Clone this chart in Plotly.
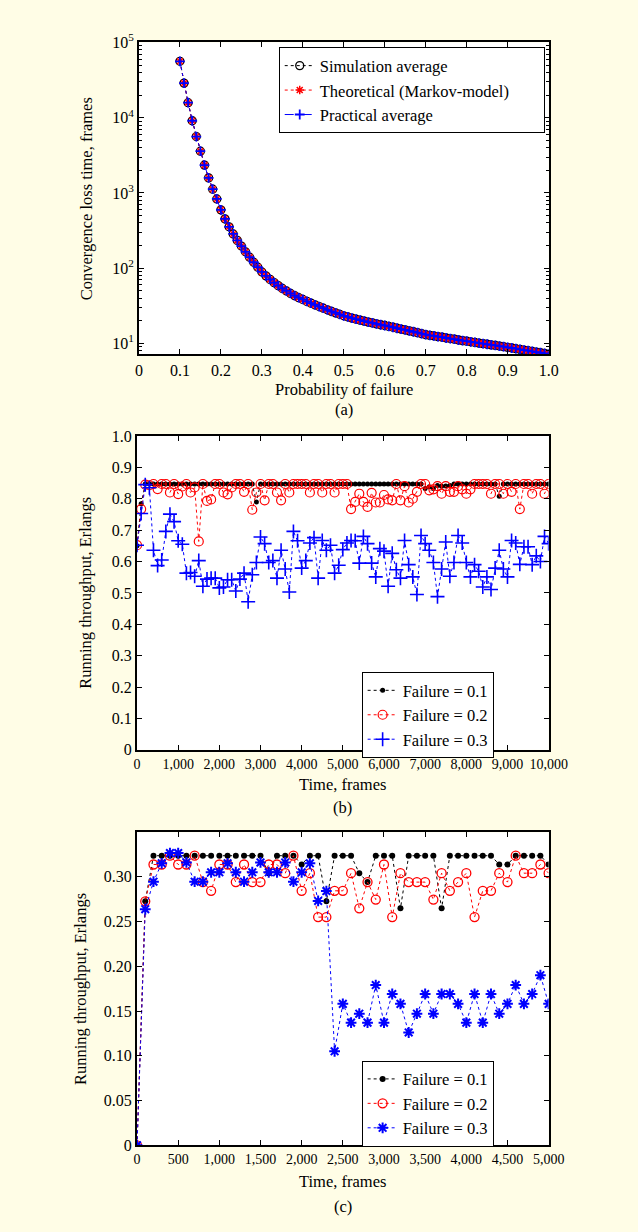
import plotly.graph_objects as go

# ---------------- data ----------------
prob_fail = [round(0.10 + 0.01 * i, 2) for i in range(91)]
sim_avg = [56234, 28840, 15849, 9120, 5623, 3589, 2344, 1585, 1122, 832,
           596, 452, 355, 285, 234, 197, 165, 140, 120, 103,
           89.1, 79.1, 71.0, 64.3, 58.6, 53.8, 49.8, 46.2, 43.2, 40.5,
           38.4, 36.2, 34.3, 32.5, 30.9, 29.4, 28.0, 26.7, 25.5, 24.4,
           23.3, 22.5, 21.7, 21.0, 20.4, 19.8, 19.2, 18.7, 18.2, 17.7,
           17.3, 16.8, 16.4, 15.9, 15.5, 15.1, 14.7, 14.3, 13.9, 13.5,
           13.1, 12.8, 12.6, 12.3, 12.1, 11.8, 11.6, 11.4, 11.1, 10.9,
           10.7, 10.5, 10.3, 10.1, 9.93, 9.75, 9.57, 9.40, 9.23, 9.04,
           8.87, 8.69, 8.51, 8.34, 8.17, 8.00, 7.83, 7.67, 7.52, 7.35, 7.19]
theory_markov = list(sim_avg)
practical_avg = list(sim_avg)

time_b = [100 * i for i in range(101)]
fail01_b = [0.650, 0.784, 0.847, 0.847, 0.847, 0.847, 0.847, 0.847, 0.847, 0.847,
            0.847, 0.847, 0.847, 0.847, 0.847, 0.847, 0.847, 0.847, 0.847, 0.847,
            0.847, 0.847, 0.847, 0.847, 0.847, 0.847, 0.847, 0.847, 0.847, 0.790,
            0.847, 0.847, 0.847, 0.847, 0.847, 0.847, 0.847, 0.847, 0.847, 0.847,
            0.847, 0.847, 0.847, 0.847, 0.847, 0.847, 0.847, 0.847, 0.847, 0.847,
            0.847, 0.847, 0.847, 0.847, 0.847, 0.847, 0.847, 0.847, 0.847, 0.847,
            0.847, 0.847, 0.847, 0.847, 0.847, 0.847, 0.847, 0.847, 0.847, 0.847,
            0.833, 0.838, 0.833, 0.842, 0.840, 0.841, 0.842, 0.847, 0.847, 0.847,
            0.847, 0.847, 0.847, 0.847, 0.847, 0.847, 0.847, 0.847, 0.808, 0.847,
            0.847, 0.847, 0.847, 0.847, 0.847, 0.847, 0.847, 0.847, 0.847, 0.847,
            0.847]
fail02_b = [0.652, 0.767, 0.845, 0.843, 0.847, 0.831, 0.847, 0.847, 0.820, 0.847,
            0.815, 0.839, 0.847, 0.820, 0.836, 0.664, 0.847, 0.793, 0.798, 0.847,
            0.847, 0.820, 0.814, 0.836, 0.847, 0.847, 0.822, 0.847, 0.765, 0.820,
            0.847, 0.795, 0.847, 0.847, 0.820, 0.795, 0.847, 0.820, 0.847, 0.847,
            0.847, 0.847, 0.820, 0.847, 0.847, 0.820, 0.847, 0.847, 0.820, 0.847,
            0.847, 0.847, 0.767, 0.790, 0.816, 0.790, 0.774, 0.819, 0.788, 0.788,
            0.812, 0.798, 0.795, 0.847, 0.795, 0.840, 0.788, 0.800, 0.822, 0.847,
            0.847, 0.827, 0.830, 0.840, 0.816, 0.840, 0.822, 0.822, 0.840, 0.830,
            0.816, 0.830, 0.847, 0.847, 0.847, 0.847, 0.816, 0.847, 0.847, 0.816,
            0.847, 0.822, 0.847, 0.767, 0.847, 0.847, 0.816, 0.847, 0.847, 0.816,
            0.847]
fail03_b = [0.652, 0.753, 0.845, 0.835, 0.636, 0.587, 0.605, 0.696, 0.751, 0.727,
            0.666, 0.655, 0.563, 0.565, 0.553, 0.603, 0.521, 0.544, 0.547, 0.547,
            0.516, 0.519, 0.542, 0.542, 0.506, 0.544, 0.563, 0.472, 0.558, 0.597,
            0.678, 0.657, 0.597, 0.603, 0.547, 0.636, 0.576, 0.503, 0.696, 0.666,
            0.579, 0.603, 0.659, 0.676, 0.547, 0.667, 0.636, 0.652, 0.563, 0.588,
            0.638, 0.659, 0.667, 0.666, 0.595, 0.680, 0.657, 0.595, 0.551, 0.641,
            0.633, 0.521, 0.626, 0.574, 0.547, 0.667, 0.590, 0.551, 0.495, 0.683,
            0.657, 0.636, 0.597, 0.488, 0.576, 0.662, 0.553, 0.597, 0.683, 0.659,
            0.597, 0.551, 0.590, 0.569, 0.519, 0.551, 0.511, 0.579, 0.636, 0.576,
            0.551, 0.667, 0.659, 0.591, 0.647, 0.647, 0.590, 0.618, 0.600, 0.680,
            0.657]

time_c = [100 * i for i in range(51)]
fail01_c = [0.0, 0.2725, 0.3235, 0.3235, 0.3235, 0.3235, 0.3235, 0.3235, 0.3235, 0.3235,
            0.3235, 0.3235, 0.3235, 0.3235, 0.3235, 0.3235, 0.3040, 0.3235, 0.3235, 0.3235,
            0.3137, 0.3235, 0.3235, 0.2725, 0.3235, 0.3235, 0.3235, 0.3040, 0.2940, 0.3235,
            0.3235, 0.3235, 0.2647, 0.3235, 0.3235, 0.3235, 0.3235, 0.2647, 0.3235, 0.3235,
            0.3235, 0.3235, 0.3235, 0.3235, 0.3137, 0.3137, 0.3235, 0.3235, 0.3235, 0.3235,
            0.3137]
fail02_c = [0.0, 0.2725, 0.3137, 0.3137, 0.3235, 0.3137, 0.3137, 0.3235, 0.2940, 0.2843,
            0.3137, 0.3137, 0.2940, 0.3137, 0.2940, 0.2940, 0.3137, 0.3137, 0.3040, 0.3235,
            0.2843, 0.3040, 0.2549, 0.2549, 0.2843, 0.2843, 0.3040, 0.2647, 0.2940, 0.2745,
            0.3137, 0.2549, 0.3040, 0.2940, 0.2940, 0.2940, 0.2745, 0.3040, 0.2843, 0.2940,
            0.3040, 0.2549, 0.2843, 0.2843, 0.3040, 0.2940, 0.3235, 0.3040, 0.3040, 0.3137,
            0.3040]
fail03_c = [0.0, 0.2637, 0.2945, 0.3150, 0.3265, 0.3265, 0.3160, 0.2945, 0.2945, 0.3050,
            0.3050, 0.3150, 0.3050, 0.2945, 0.3050, 0.3160, 0.3050, 0.3050, 0.3160, 0.2945,
            0.3050, 0.3150, 0.2730, 0.2840, 0.1050, 0.1580, 0.1370, 0.1470, 0.1370, 0.1790,
            0.1370, 0.1690, 0.1580, 0.1260, 0.1470, 0.1690, 0.1470, 0.1690, 0.1690, 0.1580,
            0.1370, 0.1690, 0.1370, 0.1690, 0.1470, 0.1580, 0.1790, 0.1580, 0.1690, 0.1900,
            0.1580]

ticks_a_x = [0, 0.1, 0.2, 0.3, 0.4, 0.5, 0.6, 0.7, 0.8, 0.9, 1.0]
ticktext_a_x = ["0", "0.1", "0.2", "0.3", "0.4", "0.5", "0.6", "0.7", "0.8", "0.9", "1.0"]
ticks_a_y = [10, 100, 1000, 10000, 100000]
ticktext_a_y = ["10<sup>1</sup>", "10<sup>2</sup>", "10<sup>3</sup>", "10<sup>4</sup>", "10<sup>5</sup>"]
ticks_b_x = [0, 1000, 2000, 3000, 4000, 5000, 6000, 7000, 8000, 9000, 10000]
ticktext_b_x = ["0", "1,000", "2,000", "3,000", "4,000", "5,000", "6,000", "7,000", "8,000", "9,000", "10,000"]
ticks_b_y = [0, 0.1, 0.2, 0.3, 0.4, 0.5, 0.6, 0.7, 0.8, 0.9, 1.0]
ticktext_b_y = ["0", "0.1", "0.2", "0.3", "0.4", "0.5", "0.6", "0.7", "0.8", "0.9", "1.0"]
ticks_c_x = [0, 500, 1000, 1500, 2000, 2500, 3000, 3500, 4000, 4500, 5000]
ticktext_c_x = ["0", "500", "1,000", "1,500", "2,000", "2,500", "3,000", "3,500", "4,000", "4,500", "5,000"]
ticks_c_y = [0, 0.05, 0.10, 0.15, 0.20, 0.25, 0.30]
ticktext_c_y = ["0", "0.05", "0.10", "0.15", "0.20", "0.25", "0.30"]

W, H = 638, 1232
FONT = "Liberation Serif"
BG = "#FFFDE6"
PAD = "\u00a0" * 7


def px_x(x):
    return x / W


def px_y(y):
    return 1 - y / H


fig = go.Figure()

fig.add_trace(go.Scatter(x=prob_fail, y=sim_avg, name="Simulation average", mode="lines+markers",
                         line=dict(color="black", width=1, dash="dot"),
                         marker=dict(symbol="circle-open", size=8, color="black", line=dict(width=1.3)),
                         xaxis="x", yaxis="y", legend="legend"))
fig.add_trace(go.Scatter(x=prob_fail, y=theory_markov, name="Theoretical (Markov-model)" + PAD, mode="lines+markers",
                         line=dict(color="red", width=1, dash="dot"),
                         marker=dict(symbol="asterisk-open", size=7, color="red", line=dict(width=1.5, color="red")),
                         xaxis="x", yaxis="y", legend="legend"))
fig.add_trace(go.Scatter(x=prob_fail, y=practical_avg, name="Practical average", mode="lines+markers",
                         line=dict(color="blue", width=1, dash="dashdot"),
                         marker=dict(symbol="cross-thin-open", size=7, color="blue", line=dict(width=1.8, color="blue")),
                         xaxis="x", yaxis="y", legend="legend"))

fig.add_trace(go.Scatter(x=time_b, y=fail01_b, name="Failure = 0.1", mode="lines+markers",
                         line=dict(color="black", width=1, dash="dot"),
                         marker=dict(symbol="circle", size=5, color="black"),
                         xaxis="x2", yaxis="y2", legend="legend2"))
fig.add_trace(go.Scatter(x=time_b, y=fail02_b, name="Failure = 0.2", mode="lines+markers",
                         line=dict(color="red", width=1, dash="dot"),
                         marker=dict(symbol="circle-open", size=9, color="red", line=dict(width=1.2, color="red")),
                         xaxis="x2", yaxis="y2", legend="legend2"))
fig.add_trace(go.Scatter(x=time_b, y=fail03_b, name="Failure = 0.3", mode="lines+markers",
                         line=dict(color="blue", width=1, dash="dot"),
                         marker=dict(symbol="cross-thin-open", size=10, color="blue", line=dict(width=1.6, color="blue")),
                         xaxis="x2", yaxis="y2", legend="legend2"))

fig.add_trace(go.Scatter(x=time_c, y=fail01_c, name="Failure = 0.1", mode="lines+markers",
                         line=dict(color="black", width=1, dash="dot"),
                         marker=dict(symbol="circle", size=6, color="black"),
                         xaxis="x3", yaxis="y3", legend="legend3"))
fig.add_trace(go.Scatter(x=time_c, y=fail02_c, name="Failure = 0.2", mode="lines+markers",
                         line=dict(color="red", width=1, dash="dot"),
                         marker=dict(symbol="circle-open", size=9, color="red", line=dict(width=1.3, color="red")),
                         xaxis="x3", yaxis="y3", legend="legend3"))
fig.add_trace(go.Scatter(x=time_c, y=fail03_c, name="Failure = 0.3", mode="lines+markers",
                         line=dict(color="blue", width=1, dash="dot"),
                         marker=dict(symbol="asterisk-open", size=9, color="blue", line=dict(width=2, color="blue")),
                         xaxis="x3", yaxis="y3", legend="legend3"))

axis_common = dict(showline=True, linecolor="black", linewidth=2, mirror="ticks",
                   ticks="inside", ticklen=5, tickwidth=1, tickcolor="black",
                   showgrid=False, zeroline=False, color="black")

minor_log = [m * 10 ** d for d in range(0, 5) for m in range(2, 10) if m * 10 ** d > 7]

legend_common = dict(xanchor="left", yanchor="top", bgcolor="white", bordercolor="black",
                     borderwidth=1, font=dict(size=16.5, family=FONT, color="black"),
                     tracegroupgap=0)

fig.update_layout(
    width=W, height=H, autosize=False,
    margin=dict(l=0, r=0, t=0, b=0, pad=0),
    paper_bgcolor=BG, plot_bgcolor="white",
    font=dict(family=FONT, color="black", size=15),
    xaxis=dict(domain=[px_x(140), px_x(565)], range=[0, 1.0], tickmode="array",
               tickvals=ticks_a_x, ticktext=ticktext_a_x, tickfont=dict(size=16, family=FONT),
               anchor="y", **axis_common),
    yaxis=dict(domain=[px_y(349), px_y(32)], type="log", range=[0.855, 5], tickmode="array",
               tickvals=ticks_a_y, ticktext=ticktext_a_y, tickfont=dict(size=16, family=FONT),
               minor=dict(ticks="inside", ticklen=3, tickcolor="black", tickmode="array", tickvals=minor_log),
               anchor="x", **axis_common),
    xaxis2=dict(domain=[px_x(138), px_x(565)], range=[0, 10000], tickmode="array",
                tickvals=ticks_b_x, ticktext=ticktext_b_x, tickfont=dict(size=14, family=FONT),
                anchor="y2", **axis_common),
    yaxis2=dict(domain=[px_y(751), px_y(432)], range=[0, 1.0], tickmode="array",
                tickvals=ticks_b_y, ticktext=ticktext_b_y, tickfont=dict(size=16, family=FONT),
                anchor="x2", **axis_common),
    xaxis3=dict(domain=[px_x(138), px_x(565)], range=[0, 5000], tickmode="array",
                tickvals=ticks_c_x, ticktext=ticktext_c_x, tickfont=dict(size=14, family=FONT),
                anchor="y3", **axis_common),
    yaxis3=dict(domain=[px_y(1153), px_y(835)], range=[0, 0.3495], tickmode="array",
                tickvals=ticks_c_y, ticktext=ticktext_c_y, tickfont=dict(size=16, family=FONT),
                anchor="x3", **axis_common),
    legend=dict(x=px_x(285), y=px_y(37), **legend_common),
    legend2=dict(x=px_x(371), y=px_y(672), **legend_common),
    legend3=dict(x=px_x(371), y=px_y(1067), **legend_common),
)

annots = [
    ("Probability of failure", 352.5, 385, 0),
    ("(a)", 352.5, 405, 0),
    ("Time, frames", 351.5, 786, 0),
    ("(b)", 351.5, 810, 0),
    ("Time, frames", 351.5, 1190, 0),
    ("(c)", 351.5, 1215, 0),
    ("Convergence loss time, frames", 85, 190.5, -90),
    ("Running throughput, Erlangs", 85, 591.5, -90),
    ("Running throughput, Erlangs", 80, 994, -90),
]
for txt, x, y, ang in annots:
    fig.add_annotation(text=txt, x=px_x(x), y=px_y(y), xref="paper", yref="paper",
                       xanchor="center", yanchor="middle", showarrow=False, textangle=ang,
                       font=dict(size=16.5, family=FONT, color="black"))

fig.write_html(
    "out.html",
    config={"displayModeBar": False, "responsive": False},
    post_script="document.body.style.margin='0';document.body.style.background='%s';"
                "document.documentElement.style.overflow='hidden';" % BG,
)
